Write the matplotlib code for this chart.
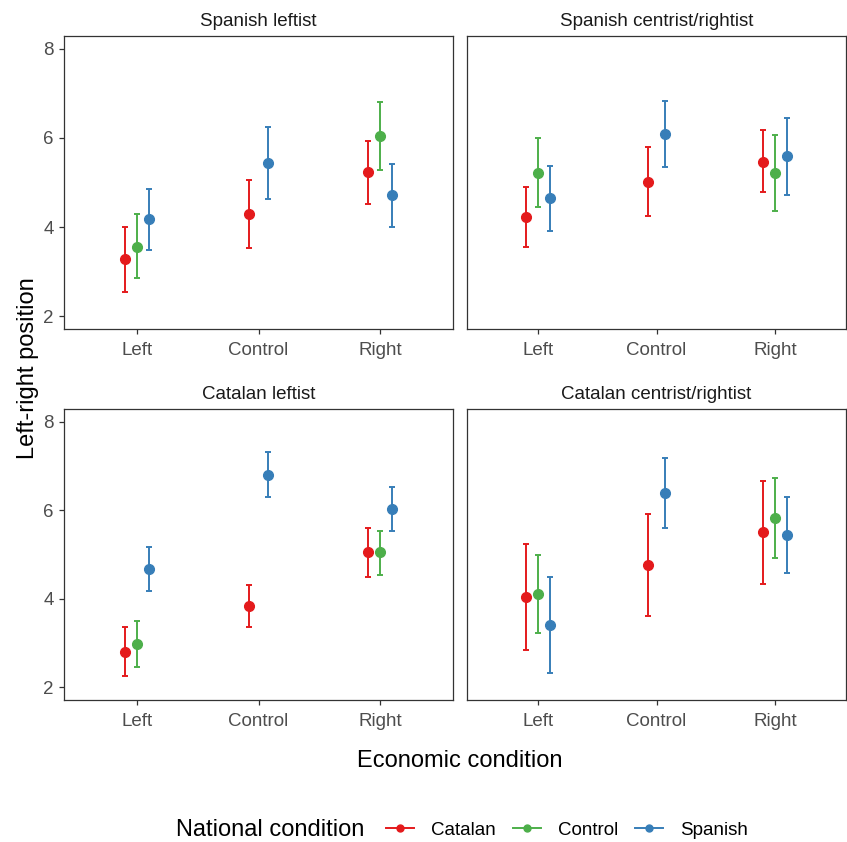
# pointrange facets: left-right position by economic / national condition

import matplotlib.pyplot as plt
from matplotlib.lines import Line2D
import numpy as np

plt.rcParams['font.family'] = ['Liberation Sans', 'DejaVu Sans']

panels = ["Spanish leftist", "Spanish centrist/rightist",
          "Catalan leftist", "Catalan centrist/rightist"]
econ = ["Left", "Control", "Right"]
national = ["Catalan", "Control", "Spanish"]
colors = ["#E41A1C", "#4DAF4A", "#377EB8"]

nan = np.nan
# one row per panel, one value per economic condition
catalan_mean = [[3.28, 4.30, 5.23], [4.23, 5.02, 5.47], [2.80, 3.83, 5.06], [4.04, 4.77, 5.50]]
catalan_lo = [[2.55, 3.54, 4.51], [3.56, 4.25, 4.78], [2.25, 3.35, 4.50], [2.83, 3.61, 4.34]]
catalan_hi = [[4.01, 5.06, 5.94], [4.90, 5.79, 6.18], [3.35, 4.30, 5.61], [5.24, 5.92, 6.67]]

control_mean = [[3.56, nan, 6.04], [5.22, nan, 5.22], [2.97, nan, 5.05], [4.11, nan, 5.83]]
control_lo = [[2.86, nan, 5.29], [4.45, nan, 4.37], [2.45, nan, 4.54], [3.23, nan, 4.93]]
control_hi = [[4.29, nan, 6.81], [5.99, nan, 6.07], [3.50, nan, 5.54], [4.98, nan, 6.74]]

spanish_mean = [[4.17, 5.43, 4.71], [4.65, 6.09, 5.59], [4.67, 6.80, 6.03], [3.40, 6.40, 5.45]]
spanish_lo = [[3.48, 4.62, 4.01], [3.92, 5.34, 4.73], [4.17, 6.29, 5.53], [2.32, 5.60, 4.59]]
spanish_hi = [[4.86, 6.25, 5.41], [5.37, 6.84, 6.44], [5.17, 7.32, 6.53], [4.48, 7.19, 6.29]]

means = [catalan_mean, control_mean, spanish_mean]
los = [catalan_lo, control_lo, spanish_lo]
his = [catalan_hi, control_hi, spanish_hi]

W, H = 847, 842
fig = plt.figure(figsize=(W / 100, H / 100), dpi=100)

# panel boxes in pixels: left, top, right, bottom
boxes = [(64, 36, 453, 329), (467, 36, 846, 329),
         (64, 409, 453, 700), (467, 409, 846, 700)]

dodge = 0.3
for p, (l, t, r, b) in enumerate(boxes):
    ax = fig.add_axes([l / W, 1 - b / H, (r - l) / W, (b - t) / H])
    for j in range(len(econ)):
        present = [k for k in range(3) if not np.isnan(means[k][p][j])]
        n = len(present)
        for i, k in enumerate(present):
            off = -dodge / 2 + dodge / n * (i + 0.5)
            m = means[k][p][j]
            ax.errorbar(j + 1 + off, m,
                        yerr=[[m - los[k][p][j]], [his[k][p][j] - m]],
                        fmt='o', color=colors[k], ms=7, elinewidth=1.4,
                        capsize=2, capthick=1.4)
    ax.set_xlim(0.4, 3.6)
    ax.set_ylim(1.71, 8.29)
    ax.set_xticks([1, 2, 3])
    ax.set_xticklabels(econ)
    ax.set_yticks([2, 4, 6, 8])
    for s in ax.spines.values():
        s.set_color("#333333")
        s.set_linewidth(0.9)
    ax.tick_params(colors="#333333", labelcolor="#4D4D4D", labelsize=13.5,
                   length=3.5, width=0.9, pad=4)
    ax.tick_params(axis='x', pad=6)
    if p % 2 == 1:
        ax.tick_params(axis='y', left=False, labelleft=False)
    ax.set_title(panels[p], fontsize=13.5, color="#1A1A1A", pad=7)

fig.text(28 / W, 1 - 368 / H, "Left-right position", rotation=90,
         ha='center', va='center', fontsize=17)
fig.text(460 / W, 1 - 761 / H, "Economic condition",
         ha='center', va='center', fontsize=17)

# legend
fig.text(176 / W, 1 - 830 / H, "National condition",
         ha='left', va='center', fontsize=17)
handles = [Line2D([], [], color=c, marker='o', ms=5, lw=1.4) for c in colors]
fig.legend(handles, national, loc='center left',
           bbox_to_anchor=(386 / W, 1 - 830 / H), ncol=3, frameon=False,
           fontsize=13.5, handlelength=1.5, handletextpad=0.9,
           columnspacing=0.9, borderaxespad=0, borderpad=0)

fig.savefig("out.png", dpi=100)
